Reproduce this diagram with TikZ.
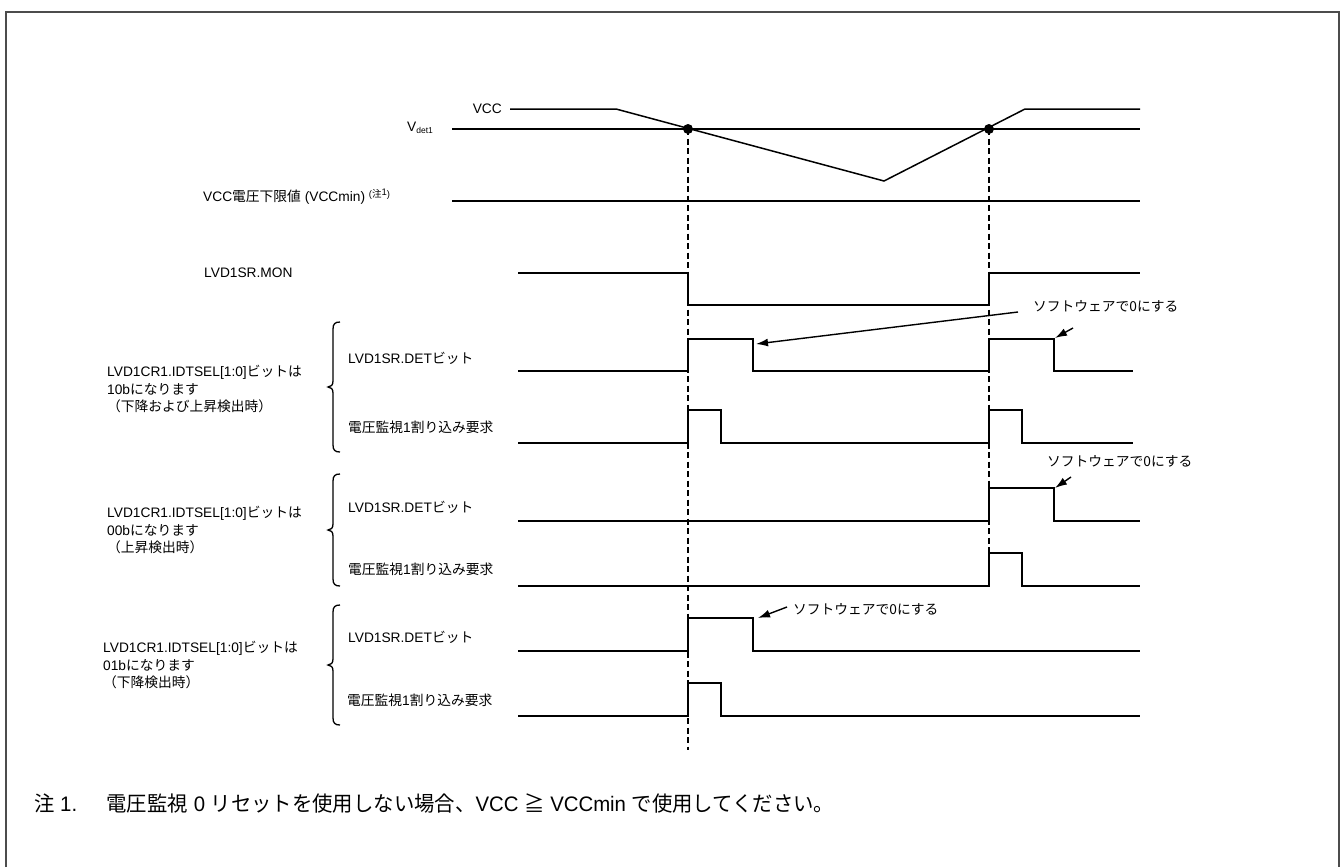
\documentclass[tikz,border=0pt]{standalone}
\usepackage{fontspec}
\setmainfont{Liberation Sans}
\newfontfamily\jp{Noto Sans CJK JP}
\newfontfamily\fnlatin[FakeStretch=0.97]{Liberation Sans}
\newfontfamily\fnjp[FakeStretch=0.97]{Noto Sans CJK JP}
\usetikzlibrary{arrows.meta}
\newcommand{\mybrace}[3]{%
  \draw[bracestyle] (340,#1) .. controls (335,#1) and (333,#1+2) .. (333,#1+7) -- (333,#2-6) .. controls (333,#2-2) and (331,#2) .. (328,#2) .. controls (331,#2) and (333,#2+2) .. (333,#2+6) -- (333,#3-7) .. controls (333,#3-2) and (335,#3) .. (340,#3);}
\begin{document}
\begin{tikzpicture}[x=1pt,y=-1pt,
  sig/.style={line width=1.7pt, line join=miter},
  thin/.style={line width=1.5pt},
  dashv/.style={line width=1.3pt, dash pattern=on 6pt off 3.5pt},
  bracestyle/.style={line width=1.3pt},
  arr/.style={line width=1.4pt, -{Latex[length=12pt,width=8pt]}},
  lbl/.style={anchor=west, inner sep=0pt, font=\fontsize{13.75}{17.5}\selectfont, align=left},
  note/.style={anchor=west, inner sep=0pt, font=\fontsize{21}{24}\selectfont\fnlatin}]
\useasboundingbox (0,0) rectangle (1343,867);
% frame
\draw[line width=2.2pt, black!70] (6,867) -- (6,12) -- (1339,12) -- (1339,867);

% analog section
\node[lbl, anchor=east] (vcc) at (502,109) {VCC};
\node[lbl] (vdet) at (407,128) {V\raisebox{-2.5pt}{\fontsize{8.5}{9}\selectfont det1}};
\node[lbl] (vmin) at (203,197) {VCC{\jp 電圧下限値} (VCCmin) \raisebox{4pt}{\fontsize{9.5}{10}\selectfont ({\jp 注}\raisebox{2pt}{1})}};
\draw[thin] (510,109) -- (616,109) -- (884,181) -- (1025,109) -- (1140,109);
\draw[thin] (452,129) -- (1140,129);
\draw[thin] (452,201) -- (1140,201);
\coordinate (p1) at (688,129);
\coordinate (p2) at (989,129);
\coordinate (d1) at (688,750);
\coordinate (d2) at (989,553);
\draw[dashv] (p1) -- (d1);
\draw[dashv] (p2) -- (d2);
\fill (p1) circle (5pt);
\fill (p2) circle (5pt);

% MON
\node[lbl] (mon) at (204,273) {LVD1SR.MON};
\draw[sig] (518,273) -- (688,273) -- (688,305) -- (989,305) -- (989,273) -- (1140,273);

% group 10b
\node[lbl] (g1) at (107,389) {LVD1CR1.IDTSEL[1:0]{\jp ビットは}\\10b{\jp になります}\\{\jp （下降および上昇検出時）}};
\mybrace{322}{387}{452}
\node[lbl] (g1det) at (348,358) {LVD1SR.DET{\jp ビット}};
\node[lbl] (g1int) at (348,427) {{\jp 電圧監視}1{\jp 割り込み要求}};
\draw[sig] (518,371) -- (688,371) -- (688,339) -- (753,339) -- (753,371) -- (989,371) -- (989,339) -- (1054,339) -- (1054,371) -- (1133,371);
\draw[sig] (518,443) -- (688,443) -- (688,410) -- (721,410) -- (721,443) -- (989,443) -- (989,410) -- (1022,410) -- (1022,443) -- (1133,443);
\node[lbl] (sw1) at (1033,306) {\jp ソフトウェアで0にする};
\coordinate (a1s) at (1018,312);
\coordinate (a1e) at (756,344);
\draw[arr] (a1s) -- (a1e);
\coordinate (a2s) at (1073,328);
\coordinate (a2e) at (1055,338);
\draw[arr] (a2s) -- (a2e);

% group 00b
\node[lbl] (g2) at (107,530) {LVD1CR1.IDTSEL[1:0]{\jp ビットは}\\00b{\jp になります}\\{\jp （上昇検出時）}};
\mybrace{474}{530}{586}
\node[lbl] (g2det) at (348,507) {LVD1SR.DET{\jp ビット}};
\node[lbl] (g2int) at (348,569) {{\jp 電圧監視}1{\jp 割り込み要求}};
\draw[sig] (518,521) -- (989,521) -- (989,488) -- (1054,488) -- (1054,521) -- (1140,521);
\draw[sig] (518,586) -- (989,586) -- (989,553) -- (1022,553) -- (1022,586) -- (1140,586);
\node[lbl] (sw2) at (1047,461) {\jp ソフトウェアで0にする};
\coordinate (a3s) at (1071,477);
\coordinate (a3e) at (1055,488);
\draw[arr] (a3s) -- (a3e);

% group 01b
\node[lbl] (g3) at (103,665) {LVD1CR1.IDTSEL[1:0]{\jp ビットは}\\01b{\jp になります}\\{\jp （下降検出時）}};
\mybrace{605}{665}{725}
\node[lbl] (g3det) at (348,637) {LVD1SR.DET{\jp ビット}};
\node[lbl] (g3int) at (347,700) {{\jp 電圧監視}1{\jp 割り込み要求}};
\draw[sig] (518,651) -- (688,651) -- (688,618) -- (753,618) -- (753,651) -- (1140,651);
\draw[sig] (518,716) -- (688,716) -- (688,683) -- (721,683) -- (721,716) -- (1140,716);
\node[lbl] (sw3) at (793,609) {\jp ソフトウェアで0にする};
\coordinate (a4s) at (787,607);
\coordinate (a4e) at (758,618);
\draw[arr] (a4s) -- (a4e);

% footnote
\node[note] (fn) at (34,803) {{\fnjp 注} 1.\hspace{1.4em}{\fnjp 電圧監視} 0 {\fnjp リセットを使用しない場合、}VCC {\fnjp ≧} VCCmin {\fnjp で使用してください。}};
\end{tikzpicture}
\end{document}
